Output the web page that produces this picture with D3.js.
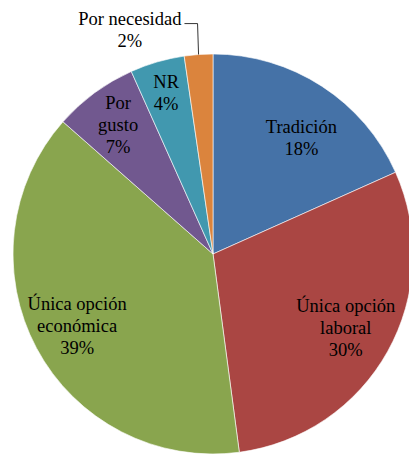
<!DOCTYPE html>
<html>
<head>
<meta charset="utf-8">
<script src="https://cdn.jsdelivr.net/npm/d3@7"></script>
<style>
    html, body { margin: 0; padding: 0; background: #fff; overflow: hidden; }
</style>
</head>
<body>
<div id="chart"></div>
<script>
// slice labels (one array entry per line)
const categories = [
    ['Tradición'],
    ['Única opción', 'laboral'],
    ['Única opción', 'económica'],
    ['Por', 'gusto'],
    ['NR'],
    ['Por necesidad']
];
const values = [18.3, 29.6, 38.6, 6.8, 4.4, 2.3];
const colors = ['#4572A7', '#AA4643', '#89A54E', '#71588F', '#4198AF', '#DB843D'];

const width = 409;
const height = 455;
const cx = 213;
const cy = 254;
const radius = 200;
const lineH = 22;

// where each label sits, as a fraction of the radius, plus a small nudge
const labelRadius = [0.73, 0.76, 0.77, 0.8, 0.84, 1.12];
const labelNudge = [[9, 7], [0, 0], [0, 0], [0, 0], [0, 0], [-67, -1]];

const svg = d3.select('#chart')
    .append('svg')
    .attr('width', width)
    .attr('height', height);

const g = svg.append('g')
    .attr('transform', `translate(${cx},${cy})`);

const data = values.map((v, i) => ({ value: v, lines: categories[i], color: colors[i], i: i }));
const total = d3.sum(values);
const pct = d3.format('.0%');

const pie = d3.pie().value(d => d.value).sort(null);
const arc = d3.arc().innerRadius(0).outerRadius(radius);
const arcs = pie(data);

g.selectAll('path')
    .data(arcs)
    .enter()
    .append('path')
    .attr('d', arc)
    .attr('fill', d => d.data.color)
    .attr('stroke', '#fff')
    .style('stroke-width', '0.6px');

function labelPoint(d) {
    const r = radius * labelRadius[d.data.i];
    const a = (d.startAngle + d.endAngle) / 2;
    const nudge = labelNudge[d.data.i];
    return [cx + r * Math.sin(a) + nudge[0], cy - r * Math.cos(a) + nudge[1]];
}

// one text element per line, placed straight on the svg
const lineData = [];
arcs.forEach(d => {
    const lines = d.data.lines.concat([pct(d.data.value / total)]);
    const p = labelPoint(d);
    const y0 = -(lines.length - 1) * lineH / 2 + 6;
    lines.forEach((s, k) => {
        lineData.push({ text: s, x: p[0], y: p[1] + y0 + k * lineH, i: d.data.i, k: k });
    });
});

const labels = svg.selectAll('text')
    .data(lineData)
    .enter()
    .append('text')
    .attr('x', d => d.x)
    .attr('y', d => d.y)
    .attr('font-family', d => '"Liberation Serif"')
    .attr('font-size', '18.5px')
    .text(d => d.text);

// centre each line on its anchor point
labels.attr('x', function (d) {
    return d.x - this.getComputedTextLength() / 2;
});

// leader line for the small outside slice
const last = arcs[arcs.length - 1];
const lp = labelPoint(last);
const edgeA = (last.startAngle + last.endAngle) / 2;
const edge = [cx + radius * Math.sin(edgeA), cy - radius * Math.cos(edgeA)];
const textW = labels.filter(d => d.i === last.data.i && d.k === 0).node().getComputedTextLength();
const lineStart = [lp[0] + textW / 2 + 3, lp[1] - 6];

svg.append('path')
    .attr('d', d3.line()([lineStart, [edge[0] - 1, lineStart[1]], edge]))
    .attr('fill', 'none')
    .attr('stroke', '#000')
    .style('stroke-width', '0.8px');
</script>
</body>
</html>
